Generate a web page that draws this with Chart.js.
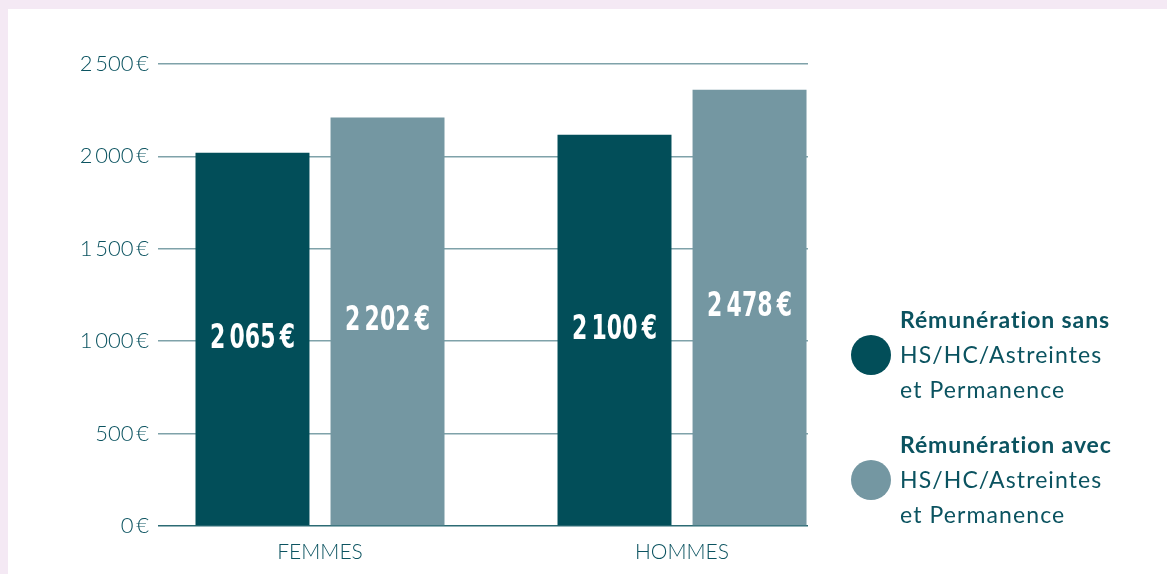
<!DOCTYPE html>
<html>
<head>
<meta charset="utf-8">
<script src="https://cdn.jsdelivr.net/npm/chart.js@4"></script>
<style>
  html, body { margin: 0; padding: 0; }
  body { width: 1167px; height: 574px; background: #f4e9f4; position: relative; overflow: hidden; font-family: Lato, "Open Sans", sans-serif; }
  .panel { position: absolute; left: 8px; top: 9px; right: 0; bottom: 0; background: #fff; }
  #chart { position: absolute; left: 0; top: 0; }
  .legend { position: absolute; left: 851px; color: #0b5360; font-size: 23px; line-height: 35px; letter-spacing: 1.1px; }
  .legend .dot { position: absolute; left: 0; width: 40px; height: 40px; border-radius: 50%; top: 33px; }
  .legend .txt { margin-left: 49px; white-space: nowrap; }
  .legend b { font-weight: 700; letter-spacing: 0.9px; }
</style>
</head>
<body>
<div class="panel"></div>
<canvas id="chart" width="1167" height="574"></canvas>
<div id="legend"></div>
<script>
// categories and values
const categories = ['FEMMES', 'HOMMES'];
const seriesNames = ['Rémunération sans', 'Rémunération avec'];
const seriesSub = 'HS/HC/Astreintes';
const seriesSub2 = 'et Permanence';
// bar heights as drawn
const sansValues = [2020, 2117];
const avecValues = [2211, 2361];
// amounts printed on the bars
const sansPrinted = [2065, 2100];
const avecPrinted = [2202, 2478];
const yTicks = [0, 500, 1000, 1500, 2000, 2500];
const colors = ['#024e59', '#7497a2'];

const thin = '\u2009';
function fmt(v, sep) {
    const s = String(v);
    return s.length > 3 ? s.slice(0, s.length - 3) + sep + s.slice(-3) : s;
}

// legend (HTML)
const legendEl = document.getElementById('legend');
seriesNames.forEach((name, i) => {
    const d = document.createElement('div');
    d.className = 'legend';
    d.style.top = (i === 0 ? 302 : 427) + 'px';
    d.innerHTML = '<div class="dot" style="background:' + colors[i] + '"></div>' +
        '<div class="txt"><b>' + name + '</b><br>' + seriesSub + '<br>' + seriesSub2 + '</div>';
    legendEl.appendChild(d);
});

const printed = [sansPrinted, avecPrinted];

const barLabels = {
    id: 'barLabels',
    afterDatasetsDraw(chart) {
        const ctx = chart.ctx;
        chart.data.datasets.forEach((ds, di) => {
            const meta = chart.getDatasetMeta(di);
            meta.data.forEach((el, i) => {
                const txt = fmt(printed[di][i], thin) + thin + '€';
                ctx.save();
                ctx.translate(el.x, (el.y + el.base) / 2);
                ctx.scale(0.74, 1);
                ctx.font = 'bold 33px "DejaVu Sans Condensed", "DejaVu Sans", sans-serif';
                ctx.fillStyle = '#ffffff';
                ctx.textAlign = 'center';
                ctx.textBaseline = 'middle';
                ctx.fillText(txt, 0, 0);
                ctx.restore();
            });
        });
    }
};

const ctx = document.getElementById('chart').getContext('2d');
new Chart(ctx, {
    type: 'bar',
    data: {
        datasets: [
            {
                label: seriesNames[0],
                data: sansValues.map((v, i) => ({ x: i + 1, y: v })),
                backgroundColor: colors[0],
                categoryPercentage: 0.746,
                barPercentage: 0.844
            },
            {
                label: seriesNames[1],
                data: avecValues.map((v, i) => ({ x: i + 1, y: v })),
                backgroundColor: colors[1],
                categoryPercentage: 0.746,
                barPercentage: 0.844
            }
        ]
    },
    options: {
        responsive: false,
        animation: false,
        layout: {
            padding: { top: 64, right: 359, bottom: 0, left: 0 }
        },
        plugins: {
            legend: { display: false },
            tooltip: { enabled: false }
        },
        scales: {
            x: {
                type: 'linear',
                offset: false,
                min: 0.5525,
                max: 2.348,
                grid: { display: false },
                border: { display: false },
                afterFit(scale) { scale.height = 48; },
                ticks: {
                    stepSize: 1,
                    includeBounds: false,
                    autoSkip: false,
                    maxRotation: 0,
                    padding: 6,
                    color: '#0b5360',
                    font: { family: 'Lato', size: 21, weight: 300 },
                    callback: (v) => categories[v - 1] || ''
                }
            },
            y: {
                min: 0,
                max: 2500,
                afterFit(scale) { scale.width = 158; },
                afterBuildTicks(scale) { scale.ticks = yTicks.map(v => ({ value: v })); },
                border: { display: false },
                grid: {
                    drawTicks: false,
                    lineWidth: 1.5,
                    color: (c) => c.tick && c.tick.value === 0 ? '#2c6b74' : '#7fa2a9'
                },
                ticks: {
                    padding: 9,
                    color: '#0b5360',
                    font: { family: 'Lato', size: 22, weight: 300 },
                    callback: (v) => fmt(v, thin) + thin + '€'
                }
            }
        }
    },
    plugins: [barLabels]
});
</script>
</body>
</html>
